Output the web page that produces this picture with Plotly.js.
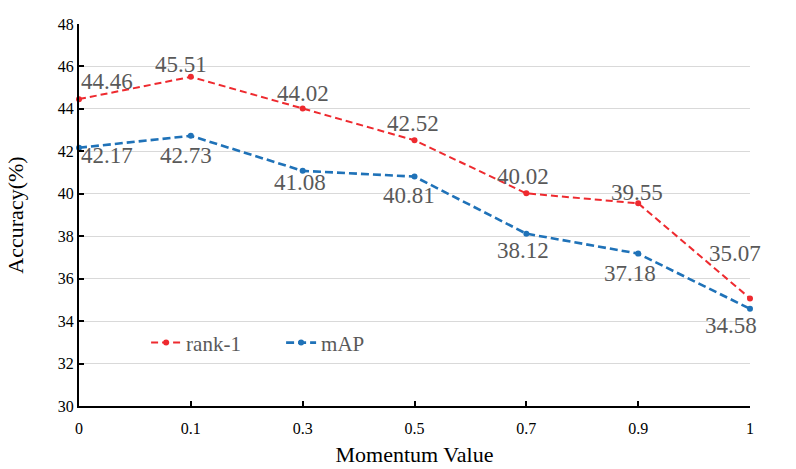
<!DOCTYPE html>
<html>
<head>
<meta charset="utf-8">
<script src="https://cdn.plot.ly/plotly-3.0.1.min.js"></script>
<style>
  html, body { margin: 0; padding: 0; background: #fff; }
  #chart { width: 796px; height: 469px; }
</style>
</head>
<body>
<div id="chart"></div>
<script>
let momentum = ['0', '0.1', '0.3', '0.5', '0.7', '0.9', '1'];
let rank1 = [44.46, 45.51, 44.02, 42.52, 40.02, 39.55, 35.07];
let mAP = [42.17, 42.73, 41.08, 40.81, 38.12, 37.18, 34.58];
let yTicks = [30, 32, 34, 36, 38, 40, 42, 44, 46, 48];

let serif = 'Liberation Serif';
let red = '#EE2A2F', blue = '#1F72B8';

// label offsets in px (x right, y down), same order as the data
let rankShift = [[28, -18], [-10, -12], [0, -15], [-2, -17], [-3, -17], [-1, -11], [-15, -45]];
let mapShift = [[28, 8], [-5, 20], [-3, 12], [-6, 19], [-3, 17], [-8, 20], [-19, 17]];

let trace1 = {
    x: momentum,
    y: rank1,
    name: 'rank-1',
    type: 'scatter',
    mode: 'lines+markers',
    line: {color: red, width: 2, dash: '7px,4px'},
    marker: {color: red, size: 6},
    cliponaxis: false
};

let trace2 = {
    x: momentum,
    y: mAP,
    name: 'mAP',
    type: 'scatter',
    mode: 'lines+markers',
    line: {color: blue, width: 2.6, dash: '8px,4px'},
    marker: {color: blue, size: 6},
    cliponaxis: false
};

// data labels (category axis -> use the category index)
let annotations = [];
function addLabels(vals, shifts) {
    for (let i = 0; i < vals.length; i++) {
        annotations.push({
            x: i, y: vals[i], xref: 'x', yref: 'y',
            text: vals[i].toFixed(2),
            showarrow: false,
            xanchor: 'center', yanchor: 'middle',
            xshift: shifts[i][0], yshift: -shifts[i][1],
            font: {family: serif, size: 23, color: '#595959'}
        });
    }
}
addLabels(rank1, rankShift);
addLabels(mAP, mapShift);

let layout = {
    width: 796,
    height: 469,
    margin: {l: 79, r: 46, t: 24, b: 63},
    paper_bgcolor: '#fff',
    plot_bgcolor: '#fff',
    font: {family: serif, color: '#000'},
    showlegend: true,
    annotations: annotations,
    legend: {
        orientation: 'h',
        x: 0.1, y: 0.165,
        xanchor: 'left', yanchor: 'middle',
        font: {family: serif, size: 21, color: '#595959'},
        bgcolor: 'rgba(0,0,0,0)',
        itemwidth: 30,
        entrywidth: 90,
        entrywidthmode: 'pixels',
        tracegroupgap: 0
    },
    xaxis: {
        type: 'category',
        range: [0, 6],
        showgrid: false,
        showline: true,
        linecolor: '#000',
        linewidth: 2,
        ticks: 'inside',
        ticklen: 5,
        tickwidth: 1.5,
        tickcolor: '#000',
        ticklabelstandoff: 7,
        tickfont: {family: serif, size: 16, color: '#000'},
        title: {text: 'Momentum Value', font: {family: serif, size: 22, color: '#000'}, standoff: 10},
        zeroline: false
    },
    yaxis: {
        range: [30, 48],
        tickvals: yTicks,
        showgrid: true,
        gridcolor: '#D9D9D9',
        gridwidth: 1,
        showline: true,
        linecolor: '#000',
        linewidth: 2,
        ticks: 'inside',
        ticklen: 5,
        tickwidth: 1.5,
        tickcolor: '#000',
        tickfont: {family: serif, size: 16, color: '#000'},
        title: {text: 'Accuracy(%)', font: {family: serif, size: 22, color: '#000'}, standoff: 28},
        zeroline: false
    }
};

Plotly.newPlot('chart', [trace1, trace2], layout, {displayModeBar: false});
</script>
</body>
</html>
